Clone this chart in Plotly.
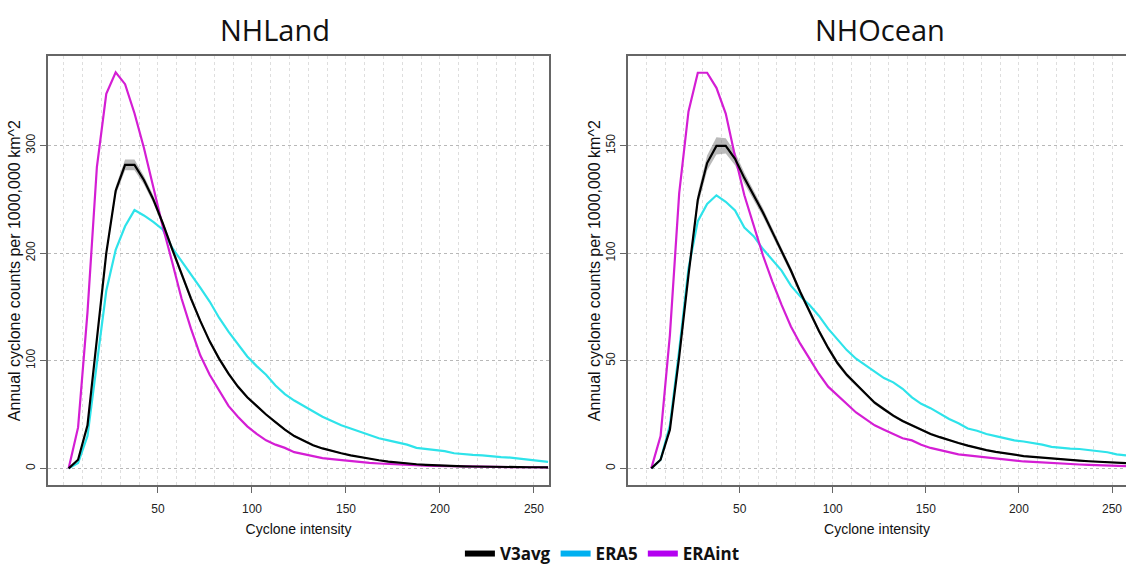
import plotly.graph_objects as go

# ---------------- data ----------------
intensity = [2.5 + 5 * i for i in range(52)]

land_v3avg = [0, 8, 40, 118, 200, 258, 282, 282, 268, 250, 228, 204, 181, 158, 137, 118,
              102, 88, 76, 66, 58, 50, 43, 36, 30, 25.5, 21.5, 18.5, 16, 14, 12, 10.3, 8.8, 7.5, 6.3, 5.3,
              4.5, 3.8, 3.3, 2.8, 2.4, 2.1, 1.9, 1.7, 1.5, 1.4, 1.3, 1.2, 1.1, 1.0, 1.0, 0.9]
land_v3spread = [0, 0.5, 1, 2, 3, 4, 5, 5, 4, 3.5, 3, 3, 2.5, 2.5, 2, 2, 2, 1.8, 1.6, 1.4,
                 1.2, 1, 1, 1, 1, 0.9, 0.8, 0.8, 0.7, 0.7, 0.6, 0.6, 0.5, 0.5, 0.5, 0.5,
                 0.5, 0.4, 0.4, 0.4, 0.4, 0.3, 0.3, 0.3, 0.3, 0.3, 0.3, 0.3, 0.3, 0.3, 0.3, 0.3]
land_era5 = [0, 5, 30, 95, 165, 203, 225, 240, 235, 229, 222, 205, 193, 180, 168, 155,
             140, 127, 115, 104, 95, 87, 77, 69, 63, 58, 53, 48, 44, 40, 37, 34, 31, 28, 26, 24,
             22, 19, 18, 17.5, 16, 14, 13, 12.5, 12, 11, 10.5, 10, 9, 8, 7.5, 6]
land_eraint = [0, 38, 145, 280, 348, 368, 357, 330, 298, 262, 225, 192, 158, 130, 105, 87,
               72, 58, 48, 39, 32, 26, 22, 19, 15, 13, 11, 9.5, 8.5, 7.5, 6.5, 5.5, 5, 4.5, 4, 3.5,
               3, 2.8, 2.5, 2.2, 2, 1.8, 1.6, 1.5, 1.4, 1.3, 1.2, 1.1, 1, 1, 0.9, 0.8]

ocean_v3avg = [0, 4, 18, 52, 90, 125, 142, 150, 150, 144, 135, 127, 119, 110, 101, 92,
               82, 73, 64, 56, 49, 43.5, 39, 34.5, 30.5, 27.5, 24.5, 22, 20, 18, 16, 14.5, 13, 11.8, 10.6, 9.5,
               8.5, 7.7, 7, 6.3, 5.7, 5.3, 4.9, 4.5, 4.2, 3.9, 3.6, 3.3, 3, 2.8, 2.6, 2.4]
ocean_v3spread = [0, 0.3, 1, 1.5, 2, 3, 3.5, 4, 3.5, 3, 2.5, 2.2, 2, 1.8, 1.6, 1.5, 1.4, 1.3, 1.2, 1.1,
                  1, 1, 0.9, 0.8, 0.8, 0.7, 0.7, 0.6, 0.6, 0.5, 0.5, 0.5, 0.4, 0.4, 0.4, 0.4,
                  0.3, 0.3, 0.3, 0.3, 0.3, 0.3, 0.3, 0.3, 0.3, 0.3, 0.3, 0.3, 0.3, 0.3, 0.3, 0.3]
ocean_era5 = [0, 4, 20, 55, 93, 115, 123, 127, 124, 120, 112, 108, 102, 97, 92, 85,
              80, 76, 71, 65, 60, 55, 51, 48, 45, 42, 40, 37, 33, 30, 28, 25.5, 23, 21, 18.5, 17.5,
              16, 15, 14, 13, 12.5, 11.8, 11, 10, 9.5, 9.2, 9, 8.5, 8, 7.5, 6.5, 6]
ocean_eraint = [0, 15, 62, 128, 166, 184, 184, 177, 165, 145, 127, 113, 99, 87, 76, 66,
                58, 51, 44, 38, 34, 30, 26, 23, 20, 18, 16, 14, 13, 11, 9.5, 8.5, 7.5, 6.5, 6, 5.5,
                5, 4.5, 4, 3.6, 3.2, 3, 2.7, 2.5, 2.2, 2, 1.8, 1.6, 1.5, 1.4, 1.2, 1]

panel_titles = ["NHLand", "NHOcean"]
x_ticks = [50, 100, 150, 200, 250]
land_y_ticks = [0, 100, 200, 300]
ocean_y_ticks = [0, 50, 100, 150]
legend_names = ["V3avg", "ERA5", "ERAint"]

# ---------------- styles ----------------
C_V3 = "#000000"
C_ERA5 = "#2EE3EA"
C_ERAINT = "#D41ED4"
LEG_COLORS = ["#000000", "#00B0F0", "#B400F0"]
LW = 2.2

fig = go.Figure()

def add_panel(xa, ya, v3, spread, era5, eraint):
    lo = [a - b for a, b in zip(v3, spread)]
    hi = [a + b for a, b in zip(v3, spread)]
    fig.add_trace(go.Scatter(x=intensity, y=lo, xaxis=xa, yaxis=ya, mode="lines",
                             line=dict(width=0, color="rgba(0,0,0,0)"), showlegend=False,
                             hoverinfo="skip"))
    fig.add_trace(go.Scatter(x=intensity, y=hi, xaxis=xa, yaxis=ya, mode="lines",
                             line=dict(width=0, color="rgba(0,0,0,0)"), fill="tonexty",
                             fillcolor="rgba(140,140,140,0.6)", showlegend=False,
                             hoverinfo="skip"))
    fig.add_trace(go.Scatter(x=intensity, y=era5, xaxis=xa, yaxis=ya, mode="lines",
                             line=dict(color=C_ERA5, width=LW), showlegend=False))
    fig.add_trace(go.Scatter(x=intensity, y=eraint, xaxis=xa, yaxis=ya, mode="lines",
                             line=dict(color=C_ERAINT, width=LW), showlegend=False))
    fig.add_trace(go.Scatter(x=intensity, y=v3, xaxis=xa, yaxis=ya, mode="lines",
                             line=dict(color=C_V3, width=LW), showlegend=False))

add_panel("x", "y", land_v3avg, land_v3spread, land_era5, land_eraint)
add_panel("x2", "y2", ocean_v3avg, ocean_v3spread, ocean_era5, ocean_eraint)

# legend-only traces
for name, col in zip(legend_names, LEG_COLORS):
    fig.add_trace(go.Scatter(x=[None], y=[None], mode="lines", name=name,
                             line=dict(color=col, width=6), showlegend=True))

W, H = 1126, 572
top = 1 - 57 / H
bot = 1 - 492 / H

tick_font = dict(family="Liberation Sans, Arial, sans-serif", size=12, color="#222")
title_font = dict(family="Liberation Sans, Arial, sans-serif", size=14, color="#111")
ytitle_font = dict(family="Liberation Sans, Arial, sans-serif", size=16, color="#111")

def xaxis_cfg(dom, rng):
    return dict(domain=dom, range=rng, tickmode="array", tickvals=x_ticks,
                ticks="outside", ticklen=6, tickcolor="#666", tickfont=tick_font,
                ticklabelstandoff=6,
                showline=True, mirror=True, linecolor="#666", linewidth=1.5,
                showgrid=True, gridcolor="#dedede", griddash="dot", gridwidth=1,
                minor=dict(dtick=10, tick0=0, showgrid=True, gridcolor="#dedede",
                           griddash="dot", gridwidth=1),
                zeroline=False, automargin=False,
                title=dict(text="Cyclone intensity", font=title_font, standoff=9))

def yaxis_cfg(anchor, rng, tv):
    return dict(domain=[bot, top], range=rng, anchor=anchor, tickmode="array", tickvals=tv,
                tickangle=-90, ticks="outside", ticklen=6, tickcolor="#666",
                tickfont=tick_font, showline=True, mirror=True, linecolor="#666",
                linewidth=1.5, showgrid=True, gridcolor="#b8b8b8", griddash="dot",
                gridwidth=1, zeroline=False, automargin=False,
                title=dict(text="Annual cyclone counts per 1000,000 km^2",
                           font=ytitle_font, standoff=0))

fig.update_layout(
    width=W, height=H,
    margin=dict(l=0, r=0, t=0, b=0),
    paper_bgcolor="white", plot_bgcolor="white",
    xaxis=dict(xaxis_cfg([48 / W, 549 / W], [-8.5, 258]), anchor="y"),
    yaxis=yaxis_cfg("x", [-15.6, 383], land_y_ticks),
    xaxis2=dict(xaxis_cfg([628 / W, 1.0], [-10, 257.5]), anchor="y2"),
    yaxis2=yaxis_cfg("x2", [-7.8, 191.7], ocean_y_ticks),
    showlegend=True,
    legend=dict(orientation="h", x=0.535, xanchor="center", y=0.017, yanchor="middle",
                traceorder="normal",
                font=dict(family="Open Sans, sans-serif", size=17, color="#111",
                          weight="bold"),
                bgcolor="rgba(0,0,0,0)", itemwidth=30, tracegroupgap=0),
)

for txt, xc in zip(panel_titles, [275 / W, 880 / W]):
    fig.add_annotation(text=txt, x=xc, y=1 - 30 / H, xref="paper", yref="paper",
                       xanchor="center", yanchor="middle", showarrow=False,
                       font=dict(family="Open Sans, sans-serif", size=29, color="#111"))

fig.write_html("out.html")
